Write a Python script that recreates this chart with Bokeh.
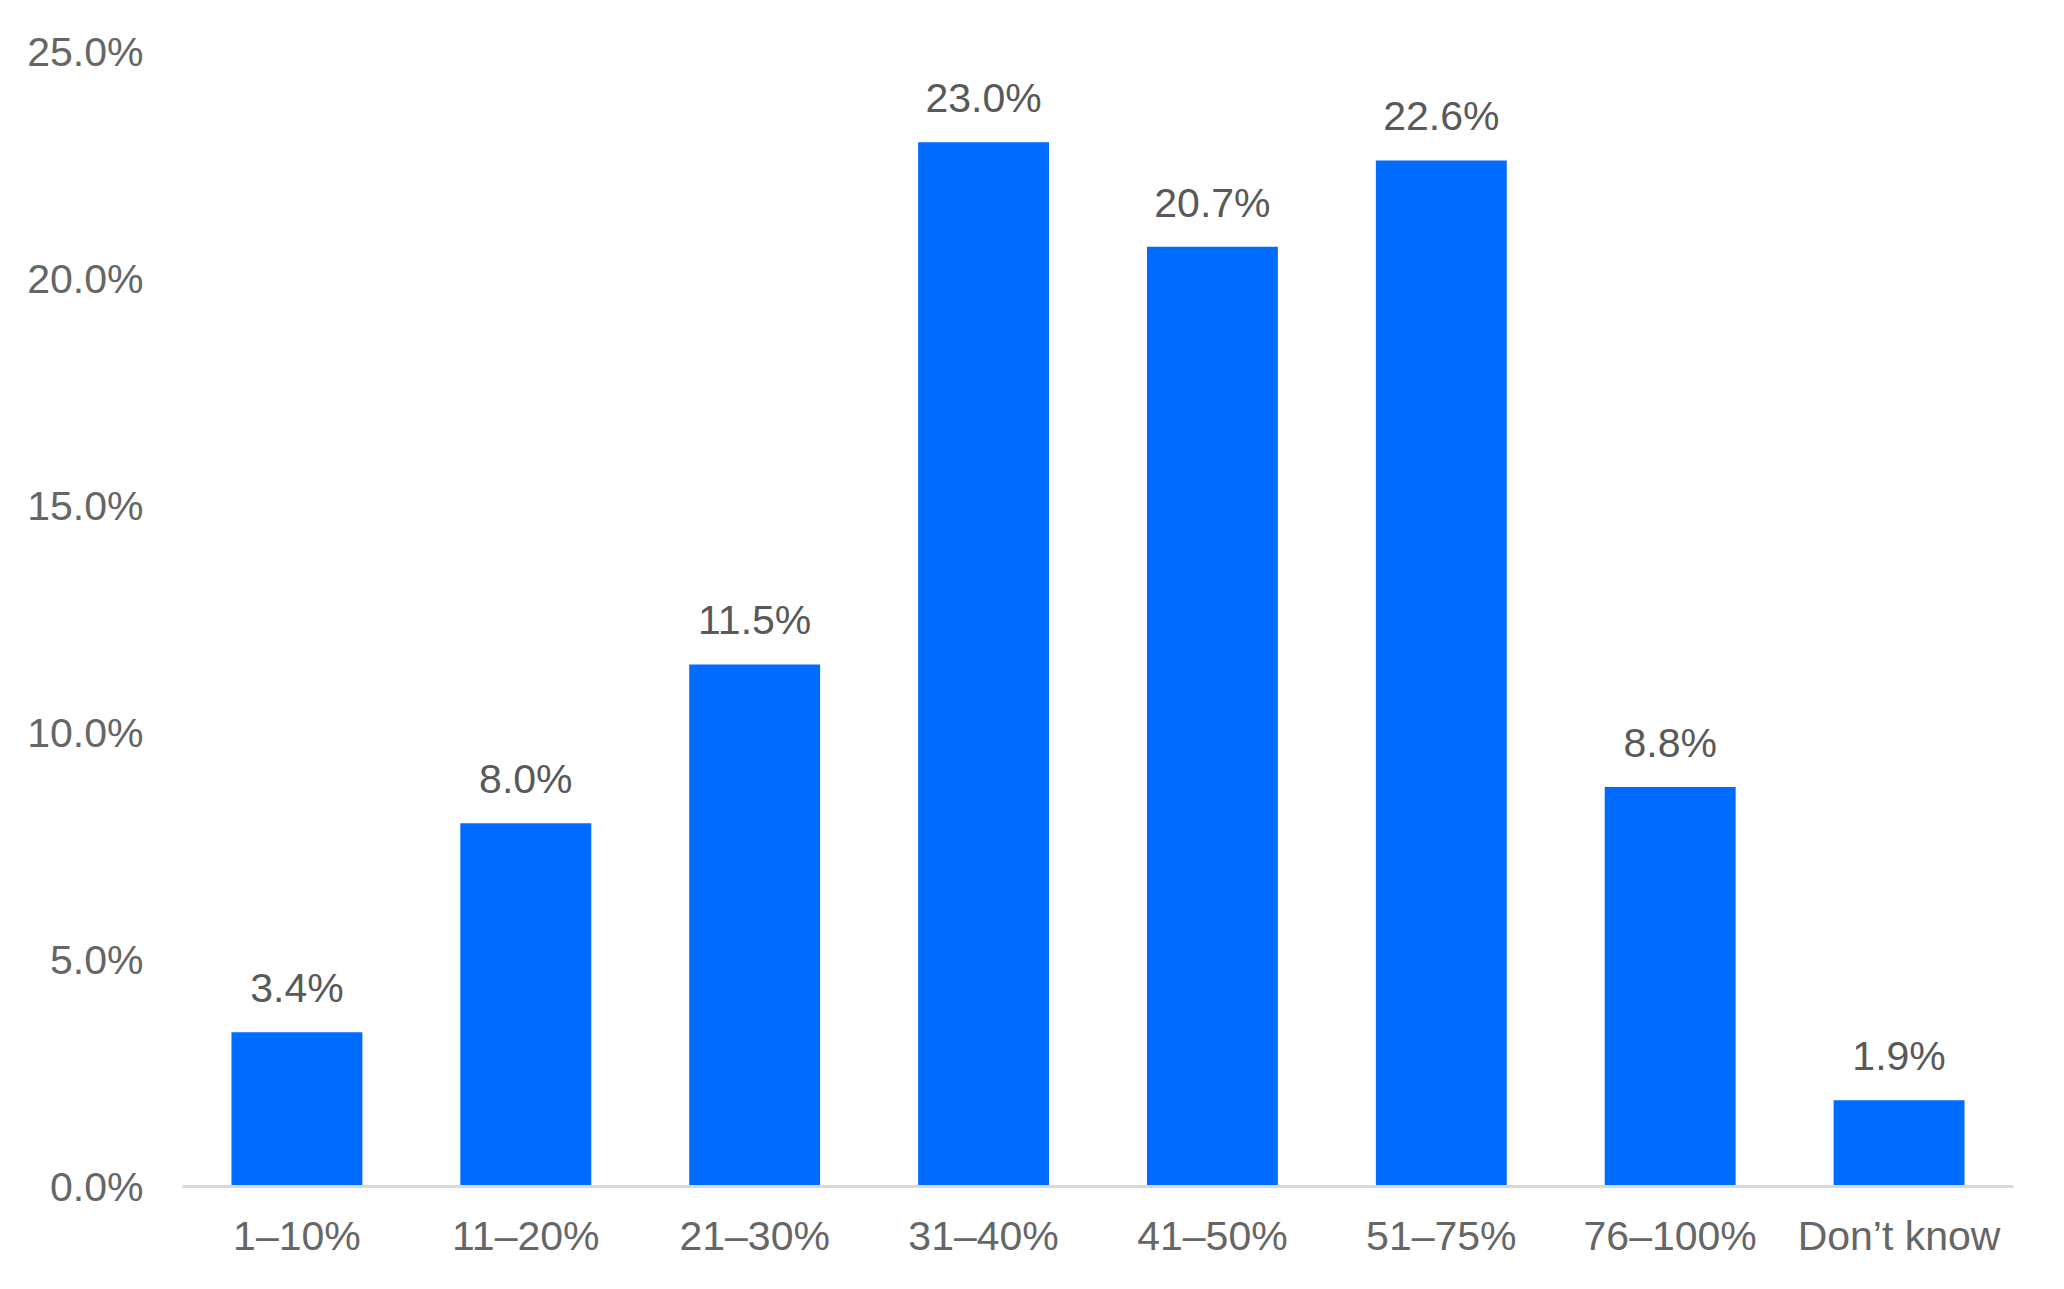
from bokeh.plotting import figure
from bokeh.models import FactorRange, Range1d, FixedTicker, PrintfTickFormatter
from bokeh.core.properties import value
from bokeh.embed import file_html
from bokeh.resources import INLINE

categories = ["1–10%", "11–20%", "21–30%", "31–40%", "41–50%", "51–75%", "76–100%", "Don’t know"]
shares = [3.4, 8.0, 11.5, 23.0, 20.7, 22.6, 8.8, 1.9]
y_ticks = [0, 5, 10, 15, 20, 25]
labels = ["%.1f%%" % v for v in shares]

FONT = "Liberation Sans"

p = figure(
    x_range=FactorRange(*categories, range_padding=0),
    y_range=Range1d(0, 25),
    frame_width=1831, frame_height=1135,
    min_border_left=182, min_border_right=35, min_border_top=51, min_border_bottom=90,
    output_backend="svg", toolbar_location=None,
)
p.outline_line_color = None
p.background_fill_color = "white"
p.border_fill_color = "white"
p.xgrid.grid_line_color = None
p.ygrid.grid_line_color = None

p.vbar(x=categories, top=shares, width=0.572, color="#006CFF", line_color=None)

p.text(x=categories, y=shares, text=labels, text_align="center", text_baseline="alphabetic",
       y_offset=-44, text_font=value(FONT), text_font_size="41px", text_color="#595959")

ya = p.yaxis[0]
ya.ticker = FixedTicker(ticks=y_ticks)
ya.formatter = PrintfTickFormatter(format="%.1f%%")
ya.axis_line_color = None
ya.major_tick_line_color = None
ya.minor_tick_line_color = None
ya.major_tick_out = 0
ya.minor_tick_out = 0
ya.major_label_standoff = 39
ya.major_label_text_font = FONT
ya.major_label_text_font_size = "41px"
ya.major_label_text_color = "#666666"

xa = p.xaxis[0]
xa.axis_line_color = "#d9d9d9"
xa.axis_line_width = 3
xa.major_tick_line_color = None
xa.minor_tick_line_color = None
xa.major_tick_out = 0
xa.minor_tick_out = 0
xa.major_label_standoff = 26
xa.major_label_text_font = FONT
xa.major_label_text_font_size = "41px"
xa.major_label_text_color = "#666666"

open("out.html", "w").write(file_html(p, INLINE))
